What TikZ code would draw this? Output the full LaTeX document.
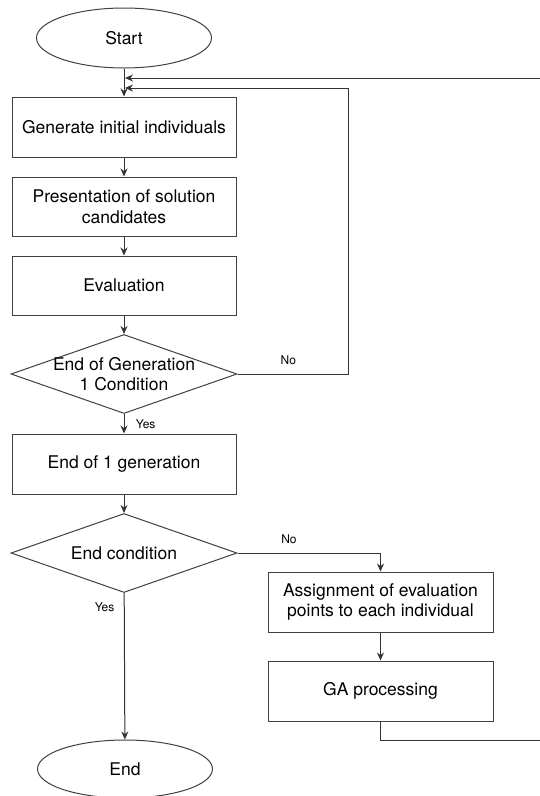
\documentclass[tikz,border=0pt]{standalone}
\usepackage{fontspec}
\setmainfont{TeX Gyre Heros}
\usetikzlibrary{shapes.geometric,arrows.meta}
\begin{document}
\begin{tikzpicture}[x=1pt, y=-1pt, >={Stealth[length=8pt,width=7pt]},
  every node/.style={font=\fontsize{17.5}{20.5}\selectfont},
  terminal/.style={draw=black!75, line width=1pt, ellipse, minimum width=175pt, minimum height=60pt, inner sep=0pt},
  process/.style={draw=black!75, line width=1pt, rectangle, minimum width=224pt, minimum height=60pt, inner sep=0pt, align=center},
  decision/.style={draw=black!75, line width=1pt, diamond, aspect=2.85, minimum width=226pt, minimum height=79pt, inner sep=0pt},
  flow/.style={->, draw=black!80, line width=1pt},
  branch/.style={font=\fontsize{12}{14}\selectfont}]

  \useasboundingbox (0,0) rectangle (540,796);

  % 1. left column
  \node[terminal] (start) at (124,38) {Start};
  \node[process] (gen) at (124,127) {Generate initial individuals};
  \node[process, minimum height=59pt] (present) at (124,206.5) {Presentation of solution\\candidates};
  \node[process, minimum height=59pt] (eval) at (124,285.5) {Evaluation};
  \node[decision] (cond1) at (124,374) {};
  \node[align=center] (cond1txt) at (cond1) {End of Generation\\1 Condition};
  \node[process] (endgen) at (124,464) {End of 1 generation};
  \node[decision] (cond2) at (124,553) {};
  \node (cond2txt) at (cond2) {End condition};
  \node[terminal, minimum height=58pt] (end) at (125,769) {End};

  % 2. right column
  \node[process, minimum width=225pt] (assign) at (380.5,602) {Assignment of evaluation\\points to each individual};
  \node[process, minimum width=225pt] (ga) at (380.5,691) {GA processing};

  % 3. return points
  \coordinate (in1) at (125,78);
  \coordinate (in2) at (125,88);
  \coordinate (back1) at (348,88);
  \coordinate (back2) at (545,740);

  % 4. main flow
  \draw[flow] (start) -- (gen);
  \draw[flow] (gen) -- (present);
  \draw[flow] (present) -- (eval);
  \draw[flow] (eval) -- (cond1);
  \draw[flow] (cond1) -- node[branch, right=8pt, midway] {Yes} (endgen);
  \draw[flow] (endgen) -- (cond2);
  \draw[flow] (cond2) -- node[branch, left=6pt, pos=0.1] {Yes} (end);
  \draw[flow] (cond2.east) -| node[branch, above=5pt, pos=0.18] {No} (assign.north);
  \draw[flow] (assign) -- (ga);

  % 5. loops back to the top
  \draw[flow] (cond1.east) -| node[branch, above=5pt, pos=0.23] {No} (back1) -- (in2);
  \draw[flow] (ga.south) |- (back2) |- (in1);

\end{tikzpicture}
\end{document}
